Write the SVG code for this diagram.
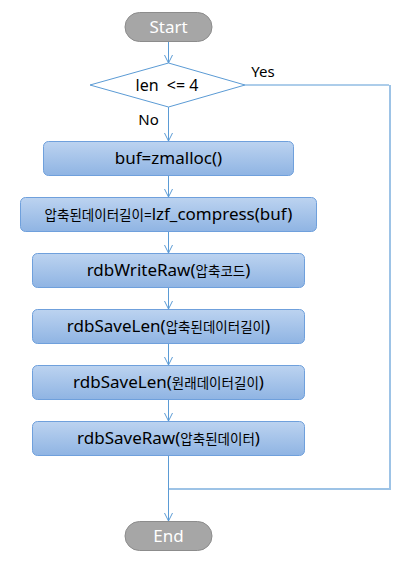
<svg xmlns="http://www.w3.org/2000/svg" width="420" height="569" viewBox="0 0 420 569">
<style>
.t{font-family:"Noto Sans","Noto Sans CJK KR",sans-serif;fill:#000;text-anchor:middle}
.big{font-size:17px}
.sm{font-size:13.5px}
.term{fill:#a6a6a6;stroke:#8c8c8c;stroke-width:1}
.tt{font-family:"Noto Sans","Noto Sans CJK KR",sans-serif;font-size:17px;fill:#fff;text-anchor:middle}
.box{fill:url(#g);stroke:#6fa0dc;stroke-width:1}
.ln{fill:none;stroke:#5b9bd5;stroke-width:1}
.ln2{fill:none;stroke:#9dc3e6;stroke-width:2}
</style>
<defs>
<linearGradient id="g" x1="0" y1="0" x2="0" y2="1">
<stop offset="0" stop-color="#bcd3f0"/>
<stop offset="1" stop-color="#8fb4e3"/>
</linearGradient>
<marker id="a" markerWidth="10" markerHeight="10" refX="9" refY="5" orient="auto" markerUnits="userSpaceOnUse">
<path d="M1,1 L9,5 L1,9" fill="none" stroke="#5b9bd5" stroke-width="1"/>
</marker>
</defs>
<g id="connectors">
<path class="ln" d="M168.5,42 V63" marker-end="url(#a)"/>
<path class="ln" d="M168.5,107 V141" marker-end="url(#a)"/>
<path class="ln" d="M168.5,175 V197" marker-end="url(#a)"/>
<path class="ln" d="M168.5,232 V253" marker-end="url(#a)"/>
<path class="ln" d="M168.5,288 V309" marker-end="url(#a)"/>
<path class="ln" d="M168.5,343 V365" marker-end="url(#a)"/>
<path class="ln" d="M168.5,399 V421" marker-end="url(#a)"/>
<path class="ln" d="M168.5,455 V521" marker-end="url(#a)"/>
<path class="ln" d="M245,85 H389"/>
<path class="ln2" d="M390,85 V489"/>
<path class="ln2" d="M391,489 H169"/>
<text class="t" x="263" y="77" font-size="15">Yes</text>
<text class="t" x="148.5" y="125" font-size="15">No</text>
</g>
<g id="start">
<rect class="term" x="125" y="12.5" width="87" height="29" rx="14.5"/>
<text class="tt" x="168.5" y="33">Start</text>
</g>
<g id="decision">
<polygon points="90,85 168.5,63 245,85 168.5,107" fill="#fff" stroke="#5b9bd5" stroke-width="1"/>
<text class="t" x="167" y="91" font-size="16" xml:space="preserve">len  &lt;= 4</text>
</g>
<g id="b1">
<rect class="box" x="43.5" y="141.5" width="250" height="34" rx="5"/>
<text class="t big" x="168.5" y="164">buf=zmalloc()</text>
</g>
<g id="b2">
<rect class="box" x="20.5" y="197.5" width="296" height="34" rx="5"/>
<text class="t big" x="168.5" y="220"><tspan class="sm">압축된데이터길이=</tspan>lzf_compress(buf)</text>
</g>
<g id="b3">
<rect class="box" x="32.5" y="253.5" width="272" height="34" rx="5"/>
<text class="t big" x="168.5" y="276">rdbWriteRaw(<tspan class="sm">압축코드</tspan>)</text>
</g>
<g id="b4">
<rect class="box" x="32.5" y="309.5" width="272" height="34" rx="5"/>
<text class="t big" x="168.5" y="332">rdbSaveLen(<tspan class="sm">압축된데이터길이</tspan>)</text>
</g>
<g id="b5">
<rect class="box" x="32.5" y="365.5" width="272" height="34" rx="5"/>
<text class="t big" x="168.5" y="388">rdbSaveLen(<tspan class="sm">원래데이터길이</tspan>)</text>
</g>
<g id="b6">
<rect class="box" x="32.5" y="421.5" width="272" height="34" rx="5"/>
<text class="t big" x="168.5" y="444">rdbSaveRaw(<tspan class="sm">압축된데이터</tspan>)</text>
</g>
<g id="end">
<rect class="term" x="125" y="521.5" width="87" height="29" rx="14.5"/>
<text class="tt" x="168.5" y="542">End</text>
</g>
</svg>
